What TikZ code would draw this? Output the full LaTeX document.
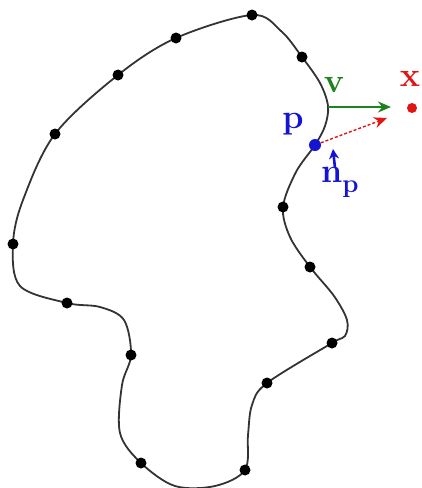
\documentclass[tikz,border=0pt]{standalone}
\usetikzlibrary{arrows.meta}
\definecolor{vgreen}{RGB}{30,130,30}
\definecolor{xred}{RGB}{225,20,20}
\definecolor{pblue}{RGB}{20,20,210}
\tikzset{
  sample/.style={circle,fill=black,inner sep=0pt,minimum size=11pt},
  lbl/.style={font=\fontsize{34}{34}\selectfont\bfseries,inner sep=0pt},
}
\begin{document}
\begin{tikzpicture}[x=1pt,y=-1pt]
\useasboundingbox (0,0) rectangle (422,488);
\draw[line width=1.8pt,black!80] plot[smooth cycle,tension=0.55] coordinates {
(252,15) (281,31) (302,57) (320,83) (328,106) (325,126) (315,145) (296,172)
(283,207) (290,237) (310,267) (334,296) (347,320) (345,336) (332,343)
(267,383) (252,405) (248,435) (245,470) (215,486) (175,486) (141,463)
(120,433) (122,385) (131,355) (124,320) (100,307) (67,303) (20,286)
(13,244) (23,200) (55,134) (118,75) (176,38)};
\foreach \n/\p in {a/{252,15},b/{302,57},c/{283,207},d/{310,267},e/{332,343},f/{267,383},g/{245,470},h/{141,463},i/{131,355},j/{67,303},k/{13,244},l/{55,134},m/{118,75},o/{176,38}}
  \node[sample] (s\n) at (\p) {};
\coordinate (y) at (328,107);
\node[circle,fill=pblue,inner sep=0pt,minimum size=12pt] (p) at (315,145) {};
\node[circle,fill=xred,inner sep=0pt,minimum size=10pt] (x) at (412,108) {};
\coordinate (gend) at (391,107);
\coordinate (rend) at (387,118);
\coordinate (nb) at (335,168);
\coordinate (nt) at (333,149);
\node[lbl,text=vgreen] (lv) at (334,85) {v};
\node[lbl,text=xred] (lx) at (410,79) {x};
\node[lbl,text=pblue] (lp) at (293,124) {p};
\node[lbl,text=pblue,anchor=base west] (ln) at (321,182) {n\raisebox{-10pt}{\fontsize{26}{26}\selectfont\bfseries p}};
\draw[vgreen,line width=2.2pt,-{Stealth[length=13pt,width=11pt]}] (y) -- (gend);
\draw[xred,line width=1.4pt,densely dashed,-{Stealth[length=13pt,width=11pt]}] (p) -- (rend);
\draw[pblue,line width=2.6pt,-{Stealth[length=10pt,width=10pt]}] (nb) -- (nt);
\end{tikzpicture}
\end{document}
